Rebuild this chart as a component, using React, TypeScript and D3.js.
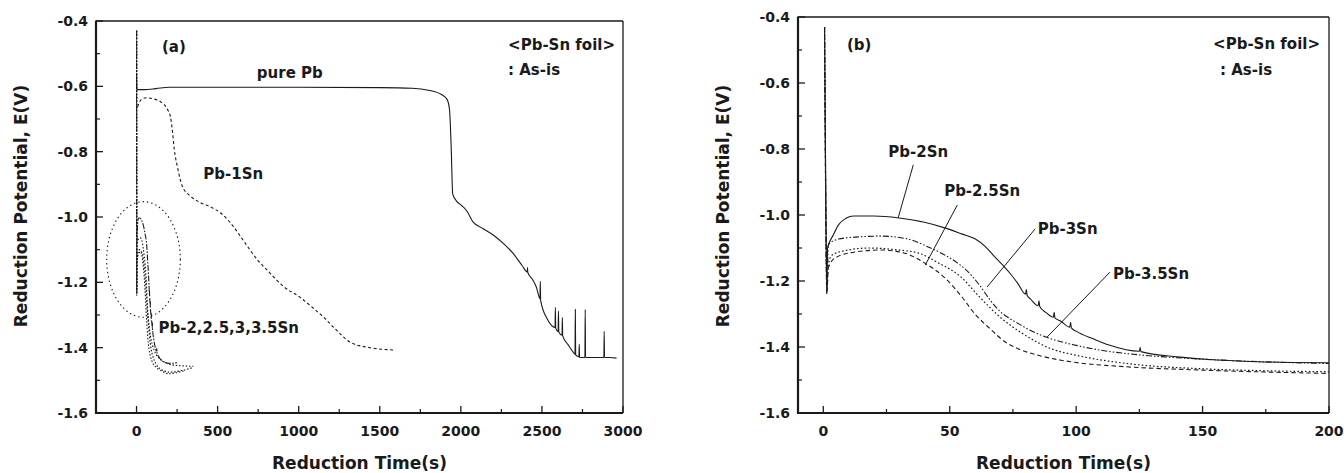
import React from "react";
import * as d3 from "d3";

type P = [number, number];

// ---------------- Data ----------------
const pbPure: P[] = [
  [0, -0.575], [2, -0.61], [50, -0.61], [120, -0.607], [200, -0.603], [600, -0.603], [1000, -0.603],
  [1500, -0.604], [1700, -0.606], [1800, -0.612], [1880, -0.625], [1915, -0.64], [1930, -0.67],
  [1940, -0.78], [1950, -0.93], [1975, -0.952], [2005, -0.965], [2035, -0.98], [2075, -1.015],
  [2135, -1.035], [2200, -1.055], [2260, -1.08], [2320, -1.11], [2380, -1.15], [2409, -1.168],
  [2411, -1.155], [2413, -1.17], [2440, -1.19], [2466, -1.215], [2488, -1.25], [2490, -1.197],
  [2492, -1.255], [2534, -1.313], [2581, -1.338], [2583, -1.277], [2585, -1.34], [2600, -1.35],
  [2602, -1.288], [2604, -1.352], [2624, -1.362], [2626, -1.308], [2628, -1.364], [2660, -1.39],
  [2690, -1.412], [2704, -1.42], [2706, -1.283], [2708, -1.422], [2728, -1.428], [2730, -1.39],
  [2732, -1.43], [2765, -1.43], [2767, -1.283], [2769, -1.43], [2820, -1.43], [2882, -1.43],
  [2884, -1.35], [2886, -1.43], [2920, -1.43], [2960, -1.432],
];

const pb1Sn: P[] = [
  [6, -0.663], [30, -0.64], [60, -0.635], [100, -0.638], [148, -0.647], [190, -0.67], [209, -0.693],
  [222, -0.74], [232, -0.79], [252, -0.846], [283, -0.907], [330, -0.935], [394, -0.956],
  [460, -0.97], [517, -0.987], [597, -1.029], [670, -1.08], [744, -1.13], [820, -1.17],
  [904, -1.212], [1009, -1.246], [1080, -1.275], [1150, -1.305], [1230, -1.345], [1316, -1.383],
  [1439, -1.4], [1520, -1.405], [1585, -1.407],
];

const pb2Sn: P[] = [
  [0.5, -0.43], [1.0, -0.95], [1.4, -1.235], [1.7, -1.1], [4, -1.06], [6, -1.03], [9, -1.01],
  [12, -1.003], [20, -1.003], [30, -1.009], [40, -1.022], [48, -1.039], [55, -1.058], [60, -1.072],
  [64, -1.095], [67, -1.12], [71, -1.152], [74, -1.178], [77, -1.208], [80, -1.24], [80.3, -1.226],
  [80.6, -1.243], [82, -1.255], [85, -1.275], [85.3, -1.26], [85.6, -1.277], [88, -1.295],
  [91, -1.31], [91.3, -1.295], [91.6, -1.312], [94, -1.322], [97.5, -1.34], [97.8, -1.325],
  [98.1, -1.342], [100, -1.352], [107, -1.376], [113, -1.394], [125, -1.413], [125.3, -1.402],
  [125.6, -1.414], [140, -1.43], [153, -1.438], [166, -1.443], [186, -1.447], [200, -1.448],
];

const pb25Sn: P[] = [
  [0.5, -0.43], [1.0, -0.97], [1.4, -1.22], [2, -1.09], [6, -1.073], [12.6, -1.067], [23, -1.064],
  [33.6, -1.073], [41.5, -1.097], [48, -1.121], [53, -1.145], [57, -1.17], [62, -1.215],
  [66, -1.258], [70, -1.293], [74, -1.315], [78, -1.333], [82, -1.35], [90, -1.375], [100, -1.395],
  [110, -1.41], [120, -1.42], [135, -1.43], [150, -1.437], [175, -1.445], [200, -1.45],
];

const pb3Sn: P[] = [
  [0.5, -0.43], [1.0, -0.99], [1.4, -1.23], [2, -1.15], [3.5, -1.121], [10, -1.106], [18, -1.1],
  [29.6, -1.106], [37.5, -1.115], [45.5, -1.145], [54, -1.185], [62, -1.25], [70, -1.31],
  [79, -1.36], [90, -1.405], [100, -1.425], [120, -1.45], [150, -1.466], [175, -1.472], [200, -1.475],
];

const pb35Sn: P[] = [
  [0.5, -0.43], [1.0, -1.0], [1.4, -1.24], [2, -1.16], [4.7, -1.13], [12.6, -1.112], [23, -1.106],
  [32, -1.115], [40, -1.145], [48, -1.19], [55, -1.25], [60, -1.3], [66, -1.345], [72, -1.385],
  [77, -1.405], [85, -1.425], [94, -1.44], [100, -1.447], [120, -1.46], [150, -1.47], [200, -1.48],
];

// tails of the Sn-alloy curves as seen in panel (a)
const tail2Sn: P[] = [[250, -1.446]];
const tail25Sn: P[] = [[260, -1.455], [350, -1.457]];
const tail3Sn: P[] = [[280, -1.47], [340, -1.462]];
const tail35Sn: P[] = [[230, -1.478], [300, -1.47]];

const xTicksA = [0, 500, 1000, 1500, 2000, 2500, 3000];
const xMinorA = [250, 750, 1250, 1750, 2250, 2750];
const xTicksB = [0, 50, 100, 150, 200];
const xMinorB = [25, 75, 125, 175];
const yTicks = [-0.4, -0.6, -0.8, -1.0, -1.2, -1.4, -1.6];
const yMinor = [-0.5, -0.7, -0.9, -1.1, -1.3, -1.5];

// label anchors (data coords)
const ellipseA = { cx: 43, cy: -1.13, rx: 227, ry: 0.177 };
const leadersB: { from: P; to: P }[] = [
  { from: [35.6, -0.848], to: [29.6, -1.009] },
  { from: [53, -0.97], to: [40.3, -1.152] },
  { from: [83.8, -1.042], to: [64.8, -1.218] },
  { from: [113.4, -1.173], to: [88.5, -1.37] },
];
const labelsB: { text: string; at: P }[] = [
  { text: "Pb-2Sn", at: [25.7, -0.825] },
  { text: "Pb-2.5Sn", at: [47.8, -0.942] },
  { text: "Pb-3Sn", at: [84.8, -1.057] },
  { text: "Pb-3.5Sn", at: [114.6, -1.194] },
];
const labelsA: { text: string; at: P }[] = [
  { text: "pure Pb", at: [742, -0.575] },
  { text: "Pb-1Sn", at: [412, -0.884] },
  { text: "Pb-2,2.5,3,3.5Sn", at: [135, -1.355] },
];

// ---------------- Styles ----------------
const FONT = "'DejaVu Sans', 'Liberation Sans', Arial, sans-serif";
const INK = "#1a1a1a";
const DASH = {
  solid: undefined as string | undefined,
  dashDotDot: "6,2,1.5,2,1.5,2",
  dotted: "1.6,2.2",
  dashed: "4.5,3",
  shortDash: "3,2.5",
};

interface PanelProps {
  x: d3.ScaleLinear<number, number>;
  y: d3.ScaleLinear<number, number>;
  xTicks: number[];
  xMinor: number[];
  id: string;
  children?: React.ReactNode;
}

function Panel({ x, y, xTicks, xMinor, id, children }: PanelProps) {
  const [x0, x1] = x.range();
  const [y0, y1] = y.range(); // y0 bottom, y1 top
  const majorLen = 7;
  const minorLen = 4;
  const cx = (x0 + x1) / 2;
  const cy = 206;
  return (
    <g>
      <defs>
        <clipPath id={`clip-${id}`}>
          <rect x={x0} y={y1} width={x1 - x0} height={y0 - y1} />
        </clipPath>
      </defs>
      <g clipPath={`url(#clip-${id})`}>{children}</g>
      {/* frame */}
      <line x1={x0} x2={x1} y1={y1} y2={y1} stroke={INK} strokeWidth={1.3} />
      <line x1={x1} x2={x1} y1={y1} y2={y0} stroke={INK} strokeWidth={1.3} />
      <line x1={x0} x2={x0} y1={y1 - 0.5} y2={y0 + 1} stroke={INK} strokeWidth={2.2} />
      <line x1={x0 - 1} x2={x1} y1={y0} y2={y0} stroke={INK} strokeWidth={2.2} />
      {/* x ticks */}
      {xTicks.map((t) => (
        <g key={`xt${t}`}>
          <line x1={x(t)} x2={x(t)} y1={y0} y2={y0 - majorLen} stroke={INK} strokeWidth={1.3} />
          <text x={x(t)} y={y0 + 23} textAnchor="middle" fontFamily={FONT} fontWeight="bold" fontSize={14} fill={INK}>
            {t}
          </text>
        </g>
      ))}
      {xMinor.map((t) => (
        <line key={`xm${t}`} x1={x(t)} x2={x(t)} y1={y0} y2={y0 - minorLen} stroke={INK} strokeWidth={1.2} />
      ))}
      {/* y ticks */}
      {yTicks.map((v) => (
        <g key={`yt${v}`}>
          <line x1={x0} x2={x0 + majorLen} y1={y(v)} y2={y(v)} stroke={INK} strokeWidth={1.3} />
          <text x={x0 - 8} y={y(v) + 5} textAnchor="end" fontFamily={FONT} fontWeight="bold" fontSize={14} fill={INK}>
            {v.toFixed(1)}
          </text>
        </g>
      ))}
      {yMinor.map((v) => (
        <line key={`ym${v}`} x1={x0} x2={x0 + minorLen} y1={y(v)} y2={y(v)} stroke={INK} strokeWidth={1.2} />
      ))}
      <text x={cx} y={469} textAnchor="middle" fontFamily={FONT} fontWeight="bold" fontSize={17} fill={INK}>
        Reduction Time(s)
      </text>
      <text
        transform={`translate(${x0 - 69},${cy}) rotate(-90)`}
        textAnchor="middle"
        fontFamily={FONT}
        fontWeight="bold"
        fontSize={17}
        fill={INK}
      >
        Reduction Potential, E(V)
      </text>
    </g>
  );
}

export default function App() {
  const xA = d3.scaleLinear().domain([-250, 3000]).range([96, 623]);
  const yA = d3.scaleLinear().domain([-1.6, -0.4]).range([413, 21]);
  const xB = d3.scaleLinear().domain([-10, 200]).range([798, 1329]);
  const yB = d3.scaleLinear().domain([-1.6, -0.4]).range([413, 17]);

  const lineA = d3
    .line<P>()
    .x((d) => xA(d[0]))
    .y((d) => yA(d[1]))
    .curve(d3.curveMonotoneX);
  const lineB = d3
    .line<P>()
    .x((d) => xB(d[0]))
    .y((d) => yB(d[1]))
    .curve(d3.curveMonotoneX);

  const snSeries = [
    { data: pb2Sn, tail: tail2Sn, dash: DASH.solid, w: 1.1 },
    { data: pb25Sn, tail: tail25Sn, dash: DASH.dashDotDot, w: 1.1 },
    { data: pb3Sn, tail: tail3Sn, dash: DASH.dotted, w: 1.2 },
    { data: pb35Sn, tail: tail35Sn, dash: DASH.dashed, w: 1.1 },
  ];

  const labelStyle = { fontFamily: FONT, fontWeight: "bold" as const, fontSize: 15, fill: INK };

  return (
    <svg width={1344} height={473} style={{ position: "absolute", left: 0, top: 0, background: "#fff" }}>
      <rect x={0} y={0} width={1344} height={473} fill="#fff" />
      {/* Panel (a) */}
      <Panel x={xA} y={yA} xTicks={xTicksA} xMinor={xMinorA} id="a">
        <path d={lineA(pbPure) || ""} fill="none" stroke={INK} strokeWidth={1.1} />
        <path d={lineA(pb1Sn) || ""} fill="none" stroke={INK} strokeWidth={1.1} strokeDasharray={DASH.shortDash} />
        {snSeries.map((s, i) => (
          <path
            key={`a${i}`}
            d={lineA([...s.data, ...s.tail]) || ""}
            fill="none"
            stroke={INK}
            strokeWidth={s.w}
            strokeDasharray={s.dash === DASH.solid ? "6,1.5,1.5,1.5" : "1.5,1.8"}
          />
        ))}
        <ellipse
          cx={xA(ellipseA.cx)}
          cy={yA(ellipseA.cy)}
          rx={xA(ellipseA.cx + ellipseA.rx) - xA(ellipseA.cx)}
          ry={yA(ellipseA.cy - ellipseA.ry) - yA(ellipseA.cy)}
          fill="none"
          stroke={INK}
          strokeWidth={1.1}
          strokeDasharray="1.4,3"
        />
      </Panel>
      <text x={162} y={52} {...labelStyle}>(a)</text>
      {labelsA.map((l) => (
        <text key={l.text} x={xA(l.at[0])} y={yA(l.at[1])} {...labelStyle}>
          {l.text}
        </text>
      ))}
      <text x={615} y={50} textAnchor="end" {...labelStyle}>&lt;Pb-Sn foil&gt;</text>
      <text x={508} y={75} {...labelStyle}>: As-is</text>

      {/* Panel (b) */}
      <Panel x={xB} y={yB} xTicks={xTicksB} xMinor={xMinorB} id="b">
        {snSeries.map((s, i) => (
          <path
            key={`b${i}`}
            d={lineB(s.data) || ""}
            fill="none"
            stroke={INK}
            strokeWidth={s.w}
            strokeDasharray={s.dash}
          />
        ))}
        {leadersB.map((l, i) => (
          <line
            key={`ld${i}`}
            x1={xB(l.from[0])}
            y1={yB(l.from[1])}
            x2={xB(l.to[0])}
            y2={yB(l.to[1])}
            stroke={INK}
            strokeWidth={1}
          />
        ))}
      </Panel>
      <text x={847} y={50} {...labelStyle}>(b)</text>
      {labelsB.map((l) => (
        <text key={l.text} x={xB(l.at[0])} y={yB(l.at[1])} {...labelStyle}>
          {l.text}
        </text>
      ))}
      <text x={1320} y={49} textAnchor="end" {...labelStyle}>&lt;Pb-Sn foil&gt;</text>
      <text x={1220} y={75} {...labelStyle}>: As-is</text>
    </svg>
  );
}
